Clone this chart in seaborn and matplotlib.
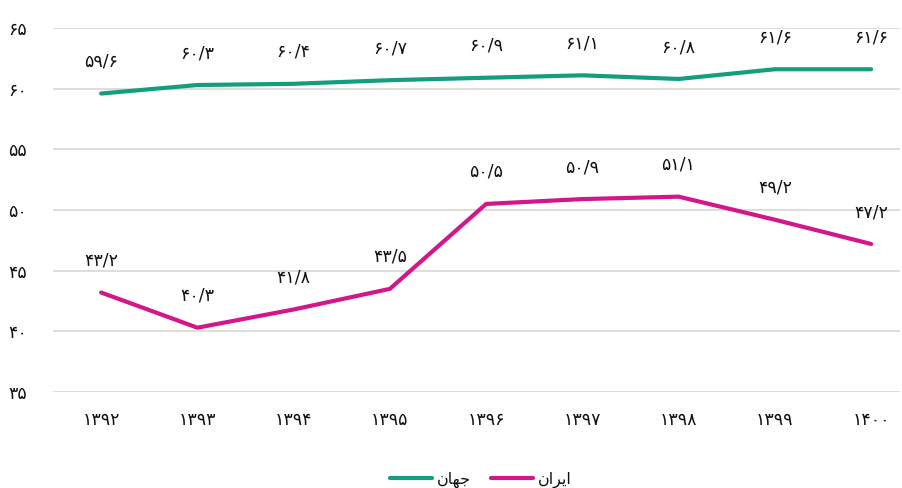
import matplotlib
matplotlib.use("Agg")
import matplotlib.pyplot as plt
import seaborn as sns
import pandas as pd

# 数据
years = [1392, 1393, 1394, 1395, 1396, 1397, 1398, 1399, 1400]
world = [59.6, 60.3, 60.4, 60.7, 60.9, 61.1, 60.8, 61.6, 61.6]
iran = [43.2, 40.3, 41.8, 43.5, 50.5, 50.9, 51.1, 49.2, 47.2]
y_ticks = [35, 40, 45, 50, 55, 60, 65]

# presentation forms, visual order (matplotlib has no bidi shaping)
name_world = "\uFEE5\uFE8E\uFEEC\uFE9F"        # جهان
name_iran = "\uFEE5\uFE8D\uFEAE\uFEF3\uFE8D"    # ایران

GREEN = "#139f7d"
MAGENTA = "#d3168a"
TEXT = "#111111"

_fa = str.maketrans("0123456789.", "۰۱۲۳۴۵۶۷۸۹/")


def fa(v):
    return str(v).translate(_fa)


sns.set_theme(style="white")
plt.rcParams["font.family"] = ["DejaVu Sans"]

df = pd.DataFrame({
    "x": list(range(len(years))) * 2,
    "value": world + iran,
    "series": [name_world] * len(years) + [name_iran] * len(years),
})

fig = plt.figure(figsize=(9.02, 4.88), dpi=100)
ax = fig.add_axes([53 / 902, 96 / 488, 847 / 902, 364 / 488])

sns.lineplot(data=df, x="x", y="value", hue="series",
             palette={name_world: GREEN, name_iran: MAGENTA},
             linewidth=3, ax=ax, legend=True, zorder=3)

# 数值标注
for i in range(len(years)):
    for vals in (world, iran):
        ax.annotate(fa(vals[i]), (i, vals[i]), xytext=(0, 23),
                    textcoords="offset points", ha="center", va="center",
                    fontsize=12.5, color=TEXT)

ax.set_xlim(-0.5, 8.3)
ax.set_ylim(35, 65)
ax.set_yticks(y_ticks)
ax.set_yticklabels([fa(t) for t in y_ticks], fontsize=12.5, color=TEXT)
ax.set_xticks(range(len(years)))
ax.set_xticklabels([fa(y) for y in years], fontsize=12.5, color=TEXT)
ax.tick_params(axis="y", length=0, pad=19)
ax.tick_params(axis="x", length=0, pad=14)
ax.grid(axis="y", color="#d8d8d2", linewidth=1.2)
ax.set_axisbelow(True)
for s in ax.spines.values():
    s.set_visible(False)
ax.set_xlabel("")
ax.set_ylabel("")

leg = ax.legend(loc="center", bbox_to_anchor=(0.505, -0.24), ncol=2,
                frameon=False, fontsize=11.5, handlelength=2.6,
                columnspacing=1.3, handletextpad=0.3)
for t in leg.get_texts():
    t.set_color(TEXT)

fig.savefig("out.png", dpi=100)
